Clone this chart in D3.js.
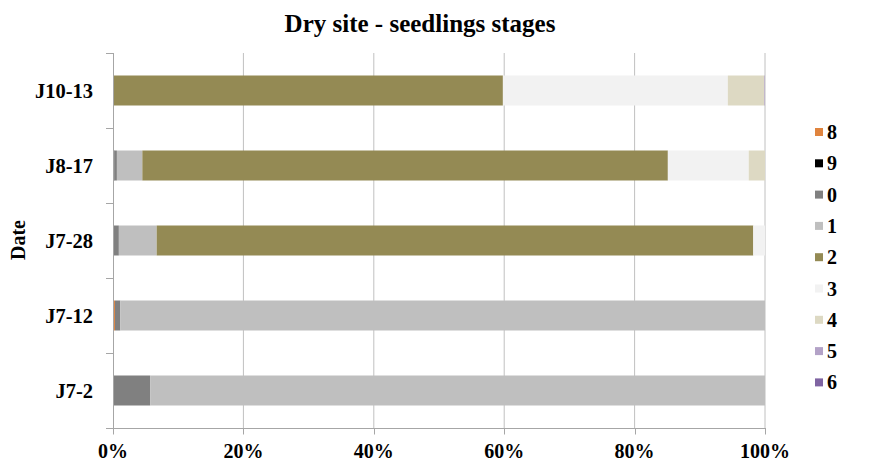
<!DOCTYPE html>
<html>
<head>
<meta charset="utf-8">
<script src="https://cdn.jsdelivr.net/npm/d3@7"></script>
<style>
  html, body { margin: 0; padding: 0; background: #fff; }
  svg text { font-family: "Liberation Serif", "Times New Roman", serif; font-weight: bold; fill: #000; }
</style>
</head>
<body>
<svg id="chart" width="890" height="462"></svg>
<script>
// Sampling dates (top to bottom)
const dates = ["J10-13", "J8-17", "J7-28", "J7-12", "J7-2"];

// Share of seedlings in each stage (%) per date
const stage8 = [0, 0, 0, 0.3, 0];
const stage9 = [0, 0.2, 0, 0, 0];
const stage0 = [0, 0.4, 0.9, 0.8, 5.7];
const stage1 = [0, 3.9, 5.8, 98.9, 94.3];
const stage2 = [59.8, 80.6, 91.5, 0, 0];
const stage3 = [34.5, 12.4, 1.8, 0, 0];
const stage4 = [5.6, 2.5, 0, 0, 0];
const stage5 = [0.1, 0, 0, 0, 0];
const stage6 = [0, 0, 0, 0, 0];

const stageKeys = ["8", "9", "0", "1", "2", "3", "4", "5", "6"];
const stageColors = ["#E0843E", "#000000", "#808080", "#BFBFBF", "#948A54",
                     "#F2F2F2", "#DDD9C3", "#B3A2C7", "#7F64A2"];
const xTickValues = [0, 0.2, 0.4, 0.6, 0.8, 1];

const stageSeries = [stage8, stage9, stage0, stage1, stage2, stage3, stage4, stage5, stage6];
const rows = dates.map((d, i) => {
  const row = { date: d };
  stageKeys.forEach((k, j) => { row[k] = stageSeries[j][i]; });
  return row;
});

const svg = d3.select("#chart");
const m = { left: 113, right: 765, top: 53, bottom: 428 };

const x = d3.scaleLinear().domain([0, 1]).range([m.left, m.right]);
const y = d3.scaleBand().domain(dates).range([m.top, m.bottom]).paddingInner(0.6).paddingOuter(0.3);
const yTicks = d3.scaleBand().domain(dates).range([m.top, m.bottom]);

const stacked = d3.stack().keys(stageKeys).offset(d3.stackOffsetExpand)(rows);
const color = d3.scaleOrdinal().domain(stageKeys).range(stageColors);

// Vertical gridlines
svg.append("g")
  .selectAll("line")
  .data(xTickValues.slice(1))
  .join("line")
  .attr("x1", d => x(d)).attr("x2", d => x(d))
  .attr("y1", m.top).attr("y2", m.bottom)
  .attr("stroke", "#C0C0C0").attr("stroke-width", 1);

// Stacked bars
svg.append("g")
  .selectAll("g")
  .data(stacked)
  .join("g")
  .attr("fill", d => color(d.key))
  .selectAll("rect")
  .data(d => d.map(v => ({ v, date: v.data.date })))
  .join("rect")
  .attr("x", d => x(d.v[0]))
  .attr("width", d => Math.max(0, x(d.v[1]) - x(d.v[0])))
  .attr("y", d => y(d.date))
  .attr("height", y.bandwidth());

// Y axis line and category separators
const axisColor = "#A6A6A6";
svg.append("line")
  .attr("x1", m.left + 0.5).attr("x2", m.left + 0.5)
  .attr("y1", m.top).attr("y2", m.bottom + 1)
  .attr("stroke", axisColor);
const yTickPos = dates.map(d => yTicks(d)).concat([m.bottom]);
svg.append("g")
  .selectAll("line")
  .data(yTickPos)
  .join("line")
  .attr("x1", m.left - 7).attr("x2", m.left)
  .attr("y1", d => Math.round(d) + 0.5).attr("y2", d => Math.round(d) + 0.5)
  .attr("stroke", axisColor);

// Category labels
svg.append("g")
  .selectAll("text")
  .data(dates)
  .join("text")
  .attr("x", 93)
  .attr("y", d => yTicks(d) + yTicks.bandwidth() / 2)
  .attr("dy", "0.35em")
  .attr("text-anchor", "end")
  .attr("font-size", 20.5)
  .text(d => d);

// X axis
const xAxis = svg.append("g").attr("transform", `translate(0,${m.bottom + 0.5})`);
xAxis.append("line")
  .attr("x1", m.left - 7).attr("x2", m.right + 1)
  .attr("stroke", axisColor);
xAxis.selectAll("line.tick")
  .data(xTickValues)
  .join("line")
  .attr("class", "tick")
  .attr("x1", d => Math.round(x(d)) + 0.5).attr("x2", d => Math.round(x(d)) + 0.5)
  .attr("y1", 0).attr("y2", 6)
  .attr("stroke", axisColor);
xAxis.selectAll("text")
  .data(xTickValues)
  .join("text")
  .attr("x", d => x(d))
  .attr("y", 29.5)
  .attr("text-anchor", "middle")
  .attr("font-size", 20)
  .text(d3.format(".0%"));

// Title
svg.append("text")
  .attr("x", 420).attr("y", 32)
  .attr("text-anchor", "middle")
  .attr("font-size", 25)
  .text("Dry site - seedlings stages");

// Y axis title
svg.append("text")
  .attr("transform", "translate(25,240) rotate(-90)")
  .attr("text-anchor", "middle")
  .attr("font-size", 20)
  .text("Date");

// Legend
const legend = svg.append("g")
  .selectAll("g")
  .data(stageKeys)
  .join("g")
  .attr("transform", (d, i) => `translate(815,${132 + i * 31.3})`);
legend.append("rect")
  .attr("x", 0).attr("y", -4)
  .attr("width", 8).attr("height", 8)
  .attr("fill", d => color(d));
legend.append("text")
  .attr("x", 12).attr("y", 0)
  .attr("dy", "0.35em")
  .attr("font-size", 20)
  .text(d => d);
</script>
</body>
</html>
